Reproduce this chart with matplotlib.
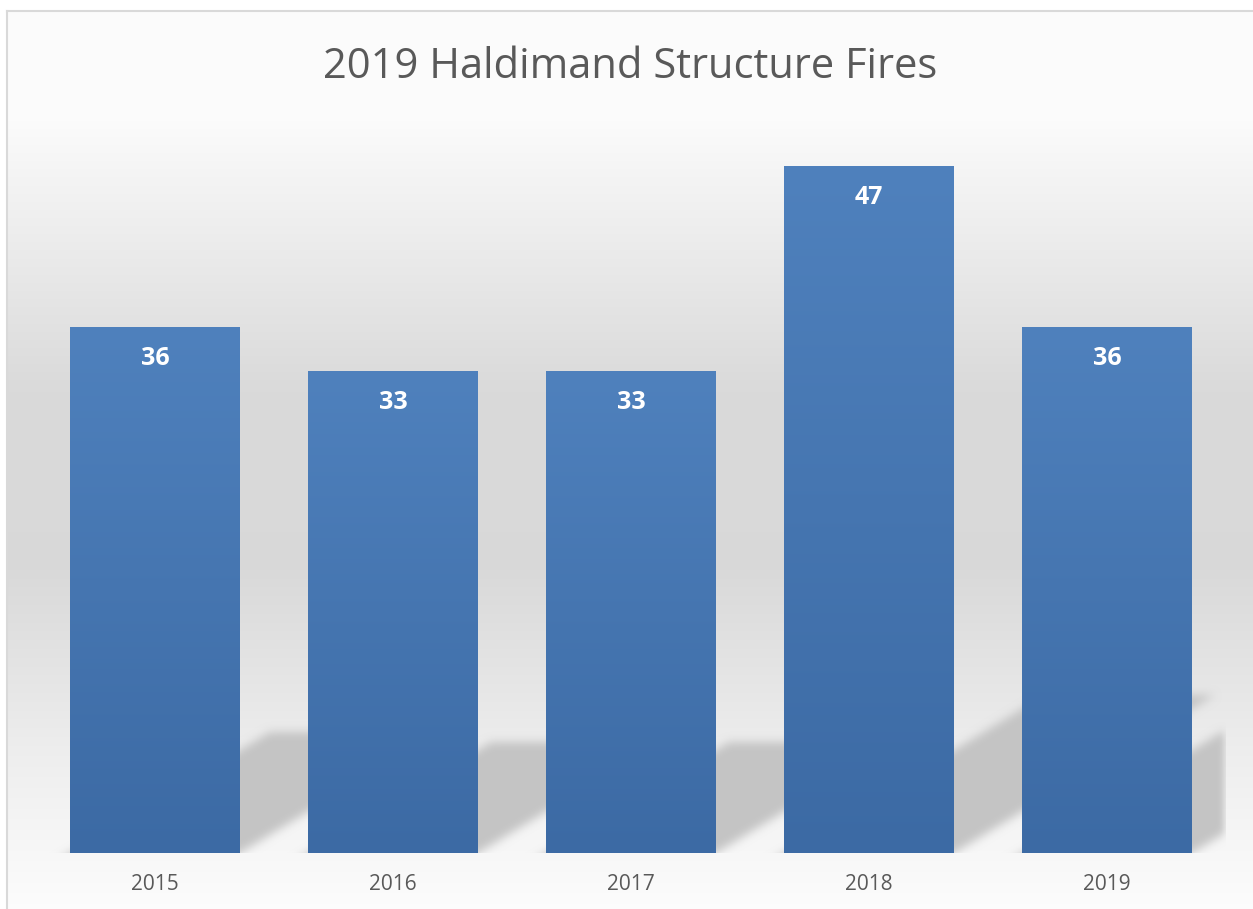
import numpy as np
import matplotlib
matplotlib.use("Agg")
import matplotlib.pyplot as plt
from matplotlib.colors import to_rgb
from matplotlib.lines import Line2D

# ---------------- data ----------------
years = ["2015", "2016", "2017", "2018", "2019"]
fires = [36, 33, 33, 47, 36]
title = "2019 Haldimand Structure Fires"

# ---------------- layout ----------------
W, H, DPI = 1253, 909, 100
FONT = ["Open Sans", "DejaVu Sans"]
TXT = "#595959"

fig = plt.figure(figsize=(W / DPI, H / DPI), dpi=DPI)
fig.patch.set_facecolor("white")

# background gradient panel (inside the chart frame)
bg = fig.add_axes([7 / W, 0, 1 - 7 / W, (H - 11) / H], zorder=0)
bg.set_axis_off()
pos = [0.0, 0.12, 0.42, 0.62, 0.82, 1.0]
val = [0.988, 0.985, 0.855, 0.85, 0.93, 0.99]
yy = np.linspace(0, 1, 800)
g = np.interp(yy, pos, val)
grad = np.repeat(g[:, None], 2, axis=1)
bg.imshow(np.dstack([grad, grad, grad]), aspect="auto", origin="upper",
          extent=(0, 1, 0, 1), interpolation="bilinear")
bg.set_xlim(0, 1)
bg.set_ylim(0, 1)

# frame lines (left and top)
fig.add_artist(Line2D([6.5 / W, 6.5 / W], [0, 1 - 10.5 / H], color="#d9d9d9", lw=1.5))
fig.add_artist(Line2D([6.5 / W, 1], [1 - 10.5 / H, 1 - 10.5 / H], color="#d9d9d9", lw=1.5))

# plot axes
ax_l, ax_b, ax_w, ax_h = 36, 56, 1190, 731
ax = fig.add_axes([ax_l / W, ax_b / H, ax_w / W, ax_h / H], zorder=1)
ax.patch.set_alpha(0)
for s in ax.spines.values():
    s.set_visible(False)
ymax = 50
ax.set_xlim(-0.5, len(years) - 0.5)
ax.set_ylim(0, ymax)
ax.set_yticks([])

x = np.arange(len(years))
bw = 0.714

# ---------------- soft floor shadows ----------------
pxx = ax_w / len(years)
pxy = ax_h / ymax
pad = 30
nx, ny = ax_w, ax_h + pad
xs = np.arange(nx) + 0.5
ys = np.arange(ny) + 0.5 - pad
mask = np.zeros((ny, nx))
for i, v in enumerate(fires):
    L = (x[i] - bw / 2 + 0.5) * pxx
    R = (x[i] + bw / 2 + 0.5) * pxx
    h = v * pxy
    depth = 0.23 * h
    for r, yv in enumerate(ys):
        if yv > depth:
            continue
        off = 1.65 * yv
        mask[r, (xs >= L + off) & (xs <= R + off)] = 1.0

def box_blur(a, rad, axis):
    k = np.ones(2 * rad + 1) / (2 * rad + 1)
    return np.apply_along_axis(lambda m: np.convolve(m, k, mode="same"), axis, a)

for _ in range(3):
    mask = box_blur(mask, 4, 0)
    mask = box_blur(mask, 4, 1)
mask = mask[pad:, :]
sc = to_rgb("#c4c4c4")
rgba = np.zeros((ax_h, nx, 4))
rgba[..., 0], rgba[..., 1], rgba[..., 2] = sc
rgba[..., 3] = np.clip(mask, 0, 1)
ax.imshow(rgba, origin="lower", aspect="auto",
          extent=(-0.5, len(years) - 0.5, 0, ymax), zorder=1, interpolation="bilinear")
ax.set_xlim(-0.5, len(years) - 0.5)
ax.set_ylim(0, ymax)

# ---------------- gradient bars ----------------
top_c = np.array(to_rgb("#4f81bd"))
bot_c = np.array(to_rgb("#3c6aa4"))
bars = ax.bar(x, fires, width=bw, color="none", edgecolor="none", zorder=2)
t = np.linspace(0, 1, 256)[:, None]
bar_grad = (bot_c[None, :] * (1 - t) + top_c[None, :] * t)[:, None, :]
bar_grad = np.repeat(bar_grad, 2, axis=1)
for b in bars:
    im = ax.imshow(bar_grad, origin="lower", aspect="auto",
                   extent=(b.get_x(), b.get_x() + b.get_width(), 0, b.get_height()),
                   zorder=2, interpolation="bilinear")
    im.set_clip_path(b)
ax.set_xlim(-0.5, len(years) - 0.5)
ax.set_ylim(0, ymax)

# data labels
for i, v in enumerate(fires):
    ax.annotate(str(v), xy=(x[i], v), xytext=(0, -38 * 72 / DPI), textcoords="offset points",
                ha="center", va="baseline", color="white", fontweight="bold",
                fontsize=18, family=FONT, zorder=3)

# x tick labels
ax.set_xticks(x, years)
ax.tick_params(axis="x", length=0, pad=36.5 * 72 / DPI, labelsize=15, labelcolor=TXT)
for lab in ax.get_xticklabels():
    lab.set_va("baseline")
    lab.set_family(FONT)

# title
fig.text(630.5 / W, 1 - 78 / H, title, ha="center", va="baseline",
         fontsize=30, color=TXT, family=FONT)

fig.savefig("out.png", dpi=DPI, facecolor="white")
